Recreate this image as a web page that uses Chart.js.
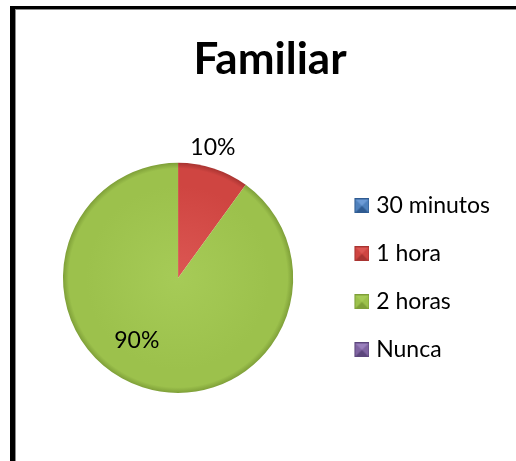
<!DOCTYPE html>
<html>
<head>
<meta charset="utf-8">
<script src="https://cdn.jsdelivr.net/npm/chart.js@4"></script>
<style>
    html, body { margin: 0; padding: 0; background: #fff; }
    #wrap { position: relative; width: 516px; height: 461px; overflow: hidden; }
    #marco {
        position: absolute; left: 10px; top: 6px; width: 520px; height: 470px;
        border-left: 5px solid #000; border-top: 3px solid #000;
        box-shadow: inset 1px 1px 0 #8c8c8c;
    }
    #grafico { position: absolute; left: 0; top: 0; }
</style>
</head>
<body>
<div id="wrap">
    <div id="marco"></div>
    <canvas id="grafico" width="516" height="461"></canvas>
</div>
<script>
const categorias = ['30 minutos', '1 hora', '2 horas', 'Nunca'];
const porcentajes = [0, 10, 90, 0];

// base, centro claro, borde oscuro
const coloresBase = ['#4f81bd', '#cf4541', '#9cc14c', '#8064a2'];
const coloresClaros = ['#6d9bd6', '#dc5753', '#a6cb57', '#9a80bd'];
const coloresOscuros = ['#2f5b91', '#a83431', '#7e9f38', '#5c467c'];

// marcador del legend: cuadrado biselado, con margen transparente a la izquierda
const crearMarcador = (i) => {
    const c = document.createElement('canvas');
    c.width = 33;
    c.height = 15;
    const g = c.getContext('2d');
    const x0 = 18, s = 15;
    const cara = (pts, color) => {
        g.beginPath();
        g.moveTo(pts[0][0], pts[0][1]);
        pts.slice(1).forEach(p => g.lineTo(p[0], p[1]));
        g.closePath();
        g.fillStyle = color;
        g.fill();
    };
    g.fillStyle = coloresBase[i];
    g.fillRect(x0, 0, s, s);
    cara([[x0, 0], [x0 + s, 0], [x0 + s / 2, s / 2]], coloresClaros[i]);
    cara([[x0, s], [x0 + s, s], [x0 + s / 2, s / 2]], coloresOscuros[i]);
    g.strokeStyle = coloresOscuros[i];
    g.lineWidth = 1;
    g.strokeRect(x0 + 0.5, 0.5, s - 1, s - 1);
    return c;
};
const marcadores = categorias.map((_, i) => crearMarcador(i));

const degradado = (context) => {
    const chart = context.chart;
    const area = chart.chartArea;
    const i = context.dataIndex;
    if (!area) return coloresBase[i];
    const cx = (area.left + area.right) / 2;
    const cy = (area.top + area.bottom) / 2;
    const r = Math.min(area.right - area.left, area.bottom - area.top) / 2;
    const grad = chart.ctx.createRadialGradient(cx, cy, 0, cx, cy, r);
    grad.addColorStop(0, coloresClaros[i]);
    grad.addColorStop(0.8, coloresBase[i]);
    grad.addColorStop(0.95, coloresBase[i]);
    grad.addColorStop(1, coloresOscuros[i]);
    return grad;
};

// etiquetas de porcentaje sobre cada sector
const etiquetasPlugin = {
    id: 'etiquetas',
    afterDatasetsDraw(chart, args, opts) {
        const ctx = chart.ctx;
        const meta = chart.getDatasetMeta(0);
        const datos = chart.data.datasets[0].data;
        const total = datos.reduce((a, b) => a + b, 0);
        ctx.save();
        ctx.font = opts.font;
        ctx.fillStyle = opts.color;
        ctx.textAlign = 'center';
        ctx.textBaseline = 'middle';
        meta.data.forEach((arc, i) => {
            if (!datos[i]) return;
            const p = arc.getProps(['x', 'y', 'startAngle', 'endAngle', 'outerRadius'], true);
            const ajuste = opts.ubicacion[i] || { r: 0.6, da: 0 };
            const ang = (p.startAngle + p.endAngle) / 2 + ajuste.da * Math.PI / 180;
            const r = p.outerRadius * ajuste.r;
            const texto = Math.round(datos[i] / total * 100) + '%';
            ctx.fillText(texto, p.x + Math.cos(ang) * r, p.y + Math.sin(ang) * r);
        });
        ctx.restore();
    }
};

new Chart(document.getElementById('grafico'), {
    type: 'pie',
    data: {
        labels: categorias,
        datasets: [{
            data: porcentajes,
            backgroundColor: degradado,
            borderWidth: 0
        }]
    },
    options: {
        responsive: false,
        animation: false,
        layout: {
            padding: { left: 40, right: 16, top: 0, bottom: 68 }
        },
        plugins: {
            title: {
                display: true,
                text: 'Familiar',
                color: '#000',
                font: { family: 'Lato', weight: 'bold', size: 44, lineHeight: 1.2 },
                padding: { top: 33, bottom: 77 }
            },
            legend: {
                position: 'right',
                fullSize: false,
                onClick: null,
                labels: {
                    usePointStyle: true,
                    pointStyleWidth: 23.5,
                    padding: 25,
                    color: '#000',
                    font: { family: 'Lato', size: 23 },
                    generateLabels(chart) {
                        const base = Chart.overrides.pie.plugins.legend.labels.generateLabels(chart);
                        return base.map((item, i) => ({ ...item, pointStyle: marcadores[i], hidden: false }));
                    }
                }
            },
            tooltip: { enabled: false },
            etiquetas: {
                font: '23px Lato',
                color: '#000',
                ubicacion: [null, { r: 1.17, da: -3 }, { r: 0.65, da: 15.5 }, null]
            }
        }
    },
    plugins: [etiquetasPlugin]
});
</script>
</body>
</html>
